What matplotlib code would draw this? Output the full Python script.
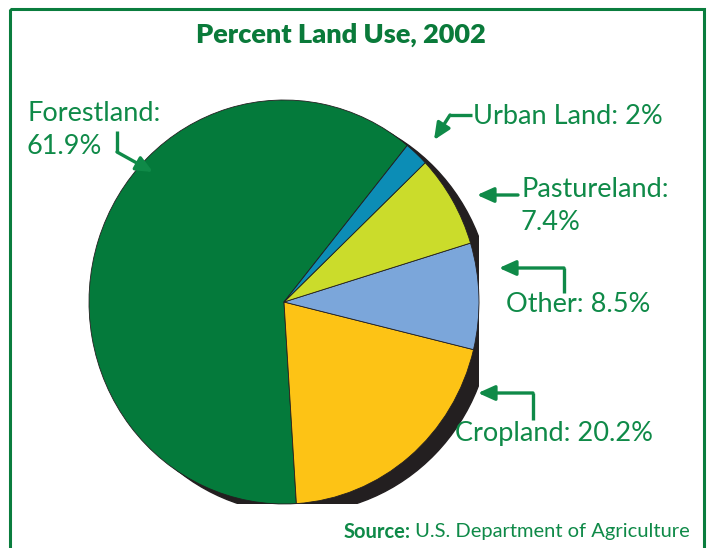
import matplotlib.pyplot as plt
from matplotlib.patches import Ellipse, Rectangle

# data
labels = ['Forestland', 'Cropland', 'Other', 'Pastureland', 'Urban Land']
shares = [61.9, 20.2, 8.5, 7.4, 2.0]
slice_colors = ['#047a3b', '#fdc315', '#7ba6da', '#cbdc2b', '#0c8db6']
label_texts = ['Forestland:\n61.9%', 'Cropland: 20.2%', 'Other: 8.5%',
               'Pastureland:\n7.4%', 'Urban Land: 2%']
title = 'Percent Land Use, 2002'
source = ['Source:', ' U.S. Department of Agriculture']

W, H = 707, 548
green = '#0f8a48'
dark = '#231f20'
font = 'Lato'

fig = plt.figure(figsize=(W / 100, H / 100), dpi=100)

# pie axes: slightly taller than wide, like the printed chart
cx, cy, rx, ry = 284, 302, 195, 202
ax = fig.add_axes([(cx - rx) / W, 1 - (cy + ry) / H, 2 * rx / W, 2 * ry / H])
ax.add_patch(Ellipse((0.068, -0.045), 2, 2, color=dark, zorder=0))
ax.pie(shares, colors=slice_colors, startangle=50.8, counterclock=True,
       radius=1, wedgeprops=dict(edgecolor=dark, linewidth=0.6))
ax.set_aspect('auto')
ax.set_xlim(-1, 1)
ax.set_ylim(-1, 1)
ax.axis('off')

# overlay in pixel coords for frame, text and arrows
ov = fig.add_axes([0, 0, 1, 1])
ov.set_xlim(0, W)
ov.set_ylim(H, 0)
ov.axis('off')
ov.patch.set_visible(False)

ov.add_patch(Rectangle((10, 9), 694, 600, fill=False, edgecolor='#0a7d3e',
                       lw=2.2, clip_on=False))

ov.text(341, 35, title, ha='center', va='center', fontsize=19.5,
        fontweight='heavy', color='#0a7a3a', family=font)


def arrow(path, tip):
    xs = [p[0] for p in path]
    ys = [p[1] for p in path]
    ov.plot(xs, ys, color=green, lw=2.4, solid_capstyle='butt',
            solid_joinstyle='miter')
    ov.annotate('', xy=tip, xytext=path[-1],
                arrowprops=dict(arrowstyle='-|>,head_length=1.0,head_width=0.45',
                                color=green, lw=2.4, shrinkA=0, shrinkB=0))


# label positions (left x, center y) and arrow paths
label_pos = [(27, 130), (455, 433), (506, 305), (521, 206), (473, 117)]
arrow_paths = [
    ([(117, 131), (117, 152)], (153, 172)),
    ([(533, 420), (533, 393)], (478, 393)),
    ([(564, 293), (564, 268)], (499, 268)),
    ([(518, 195)], (477, 195)),
    ([(472, 115), (450, 115)], (434, 140)),
]

for txt, (x, y) in zip(label_texts, label_pos):
    ov.text(x, y, txt, ha='left', va='center', fontsize=19.5, color=green,
            family=font, fontweight='normal', linespacing=1.42)

for path, tip in arrow_paths:
    arrow(path, tip)

t_rest = ov.text(690, 532, source[1], ha='right', va='center', fontsize=14.5,
                 color=green, family=font)
ov.annotate(source[0], xy=(0, 0.5), xycoords=t_rest, ha='right', va='center',
            fontsize=14.5, color=green, family=font, fontweight='bold')

fig.savefig('out.png', dpi=100)
